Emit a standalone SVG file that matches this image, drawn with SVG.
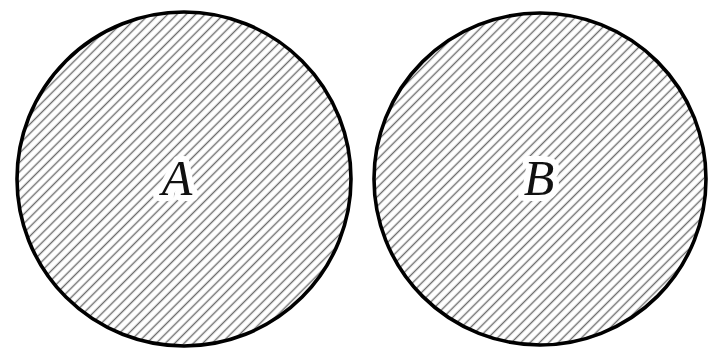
<svg xmlns="http://www.w3.org/2000/svg" width="712" height="351" viewBox="0 0 712 351">
  <style>
    .set { fill: url(#hatch); stroke: #000; stroke-width: 3.6; }
    .lbl { font-family: "Liberation Serif", "DejaVu Serif", serif; font-style: italic; font-size: 50px; fill: #111; text-anchor: middle; stroke: #fff; stroke-width: 12; stroke-linejoin: round; paint-order: stroke; }
  </style>
  <defs>
    <pattern id="hatch" patternUnits="userSpaceOnUse" width="6.6" height="6.6" patternTransform="rotate(45)">
      <rect width="6.6" height="6.6" fill="#fff"/>
      <line x1="3.3" y1="0" x2="3.3" y2="6.6" stroke="#6e6e6e" stroke-width="1.4"/>
    </pattern>
  </defs>
  <rect width="712" height="351" fill="#fff"/>
  <g id="A">
    <circle class="set" cx="184" cy="179" r="167"/>
    <text class="lbl" x="177" y="195">A</text>
  </g>
  <g id="B">
    <circle class="set" cx="540" cy="179" r="166"/>
    <text class="lbl" x="539" y="195">B</text>
  </g>
  <g id="connectors"></g>
</svg>
